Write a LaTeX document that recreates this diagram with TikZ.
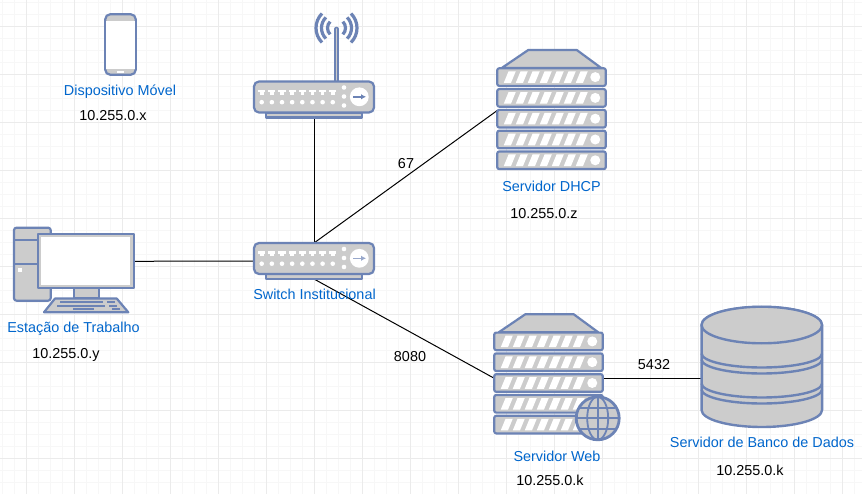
\documentclass[tikz,border=0pt]{standalone}
\usepackage{fontspec}
\setmainfont{Liberation Sans}
\usetikzlibrary{calc,arrows.meta}

\definecolor{iconblue}{HTML}{6C83B5}
\definecolor{icongray}{HTML}{CCCCCC}
\definecolor{nameblue}{HTML}{0066CC}

\tikzset{
  iconbox/.style={inner sep=0pt,outer sep=0pt},
  iconpart/.style={draw=iconblue,fill=icongray,line width=2.2pt,line join=round},
  iconwave/.style={draw=iconblue,line width=3.2pt},
  namelabel/.style={text=nameblue,font=\fontsize{14.4}{17}\selectfont,inner sep=0pt,text height=10.5pt,text depth=3pt},
  addrlabel/.style={text=black,font=\fontsize{14.4}{17}\selectfont,inner sep=0pt,text height=10.5pt,text depth=3pt},
  portlabel/.style={text=black,font=\fontsize{14.4}{17}\selectfont,inner sep=0pt,text height=10.5pt,text depth=3pt},
  link/.style={draw=black,line width=1pt},
}

%% switch body, also used for the router
\newcommand{\netdevice}[2]{
  \begin{scope}[shift={(#1.north west)}]
    \draw[iconpart] (12,31) rectangle (108,36);
    \draw[iconpart,rounded corners=5pt] (0,0) rectangle (120,31);
    \foreach \x in {0,...,7}
    {
      \fill[white] ({7.7+10.15*\x-3.6},8.3) rectangle ({7.7+10.15*\x+3.6},11);
      \fill[white] ({7.7+10.15*\x-1.8},11) rectangle ({7.7+10.15*\x+1.8},13.2);
      \fill[white] ({7.7+10.15*\x},20.7) circle (2.3);
    }
    \foreach \y in {6,15,24}
      \fill[white] (90,\y) circle (2.3);
    \fill[white] (105.3,15.3) circle (9.4);
    \draw[-{Latex[length=5pt,width=5.5pt]},draw=#2,fill=#2,line width=1.5pt] (99,15.3) -- (112,15.3);
  \end{scope}
}

%% five stacked units with a roof
\newcommand{\serverstack}[1]{
  \begin{scope}[shift={(#1.north west)}]
    \draw[iconpart] (4.5,18) -- (31,0) -- (79.5,0) -- (104,18) -- cycle;
    \foreach \u in {0,1,2,3,4}
    {
      \begin{scope}[yshift={-(18.3+20.8*\u)*1pt}]
        \draw[iconpart,rounded corners=2pt] (0,0) rectangle (108.5,17.6);
        \foreach \x in {0,...,6}
          \fill[white] ({6.5+12*\x},14.6) -- ({13.7+12*\x},14.6) -- ({18.5+12*\x},3) -- ({11.3+12*\x},3) -- cycle;
        \fill[white] (98,8.8) circle (5);
      \end{scope}
    }
  \end{scope}
}

\begin{document}
\begin{tikzpicture}[x=1pt,y=-1pt]
  \useasboundingbox (0,0) rectangle (862,494);
  \fill[white] (0,0) rectangle (862,494);

  %% Background grid
  \foreach \x in {2.5,14.5,...,860}
    \draw[draw=black!3,line width=1pt] (\x,0) -- (\x,494);
  \foreach \y in {2.5,14.5,...,494}
    \draw[draw=black!3,line width=1pt] (0,\y) -- (862,\y);
  \foreach \x in {26.5,74.5,...,860}
    \draw[draw=black!8,line width=1pt] (\x,0) -- (\x,494);
  \foreach \y in {26.5,74.5,...,494}
    \draw[draw=black!8,line width=1pt] (0,\y) -- (862,\y);

  %% Boxes the connectors attach to
  \node[iconbox,minimum width=30.5pt,minimum height=60.5pt] (phone) at (120.5,44.5) {};
  \node[iconbox,minimum width=120pt,minimum height=36pt] (router) at (314,99.5) {};
  \node[iconbox,minimum width=120pt,minimum height=36pt] (switch) at (314,261) {};
  \node[iconbox,minimum width=96pt,minimum height=54pt] (pc) at (86.3,261.3) {};
  \node[iconbox,minimum width=108.5pt,minimum height=121pt] (dhcp) at (551.5,110.5) {};
  \node[iconbox,minimum width=108.5pt,minimum height=128pt] (web) at (548.5,378.3) {};
  \node[iconbox,minimum width=120.5pt,minimum height=120pt] (db) at (761.8,367) {};

  %% Connectors
  \draw[link] (router.south) -- (switch.north);
  \draw[link] (switch.north) -- (dhcp.west);
  \draw[link] (switch.west) -- (pc.east);
  \draw[link] (switch.south) -- (web.west);
  \draw[link] (web.east) -- (web.east -| db.west);

  %% Phone
  \begin{scope}[shift={(phone.north west)}]
    \draw[iconpart,rounded corners=5pt] (0,0) rectangle (30.5,60.5);
    \fill[white] (1.1,6.5) rectangle (29.4,55);
    \fill[white] (11.5,56.8) rectangle (18.7,58.6);
  \end{scope}

  %% Router with antenna
  \draw[draw=iconblue,line width=4.6pt,line cap=round] (336.5,81) -- (336.5,29);
  \draw[draw=icongray,line width=1.2pt,line cap=round] (336.5,81) -- (336.5,29);
  \foreach \r in {9,15,20.5}
  {
    \draw[iconwave] (336.5,28) ++(-45:\r) arc (-45:45:\r);
    \draw[iconwave] (336.5,28) ++(135:\r) arc (135:225:\r);
  }
  \netdevice{router}{iconblue}
  \netdevice{switch}{iconblue!70}

  %% Workstation
  \draw[iconpart,rounded corners=2.5pt] (14,227.7) rectangle (50.7,300.7);
  \draw[draw=iconblue,line width=2.2pt] (14,240) -- (50.7,240);
  \draw[draw=iconblue,line width=2.2pt] (14,264) -- (50.7,264);
  \fill[white] (18.3,267.6) rectangle (22,271.6);
  \draw[iconpart] (74,288) rectangle (99,297.7);
  \draw[iconpart] (pc.south west) rectangle (pc.north east);
  \fill[white] (41.3,237) rectangle (130,285);
  \draw[iconpart] (44,312.3) -- (55,298.5) -- (116.7,298.5) -- (128.3,312.3) -- cycle;
  \fill[iconblue] (60,300.8) rectangle (103,302.8);
  \fill[iconblue] (106.7,300.8) rectangle (115,302.8);
  \fill[iconblue] (57,304.6) rectangle (105,306.6);
  \fill[iconblue] (109,304.6) rectangle (117,306.6);
  \fill[iconblue] (73,308.3) rectangle (94,310.3);
  \fill[iconblue] (112,308.3) rectangle (120,310.3);

  %% Servers
  \serverstack{dhcp}
  \serverstack{web}
  \draw[iconpart,line width=2.8pt] (597.7,418.3) circle (21.5);
  \begin{scope}[draw=iconblue,line width=1.8pt]
    \draw (597.7,396.8) -- (597.7,439.8);
    \draw (576.2,418.3) -- (619.2,418.3);
    \draw (597.7,418.3) ellipse (10.5 and 21.5);
    \draw (580,408) -- (615.4,408);
    \draw (580,428.6) -- (615.4,428.6);
  \end{scope}

  %% Database
  \begin{scope}[shift={(db.north west)}]
    \draw[iconpart,line width=2.4pt] (0,18) -- (0,103) arc (180:0:60.25 and 17) -- (120.5,18) arc (0:-180:60.25 and 18);
    \draw[iconpart,line width=2.4pt] (60.25,18) ellipse (60.25 and 18.3);
    \foreach \y in {46.5,52.5,76.5,82.5}
      \draw[draw=iconblue,line width=2.4pt] (0,\y) arc (180:0:60.25 and 14);
  \end{scope}

  %% Labels
  \node[namelabel] (phonename) at (120,91.5) {Dispositivo Móvel};
  \node[addrlabel] (phoneaddr) at (113,116.3) {10.255.0.x};
  \node[namelabel] (dhcpname) at (551.5,188.2) {Servidor DHCP};
  \node[addrlabel] (dhcpaddr) at (544,214.8) {10.255.0.z};
  \node[namelabel] (pcname) at (73.5,328.3) {Estação de Trabalho};
  \node[addrlabel] (pcaddr) at (66,354.8) {10.255.0.y};
  \node[namelabel] (switchname) at (314.5,295.5) {Switch Institucional};
  \node[namelabel] (webname) at (557,458) {Servidor Web};
  \node[addrlabel] (webaddr) at (550,481.5) {10.255.0.k};
  \node[namelabel] (dbname) at (762,443.5) {Servidor de Banco de Dados};
  \node[addrlabel] (dbaddr) at (750,471.5) {10.255.0.k};
  \node[portlabel] (dhcpport) at (406,165) {67};
  \node[portlabel] (webport) at (410,358) {8080};
  \node[portlabel] (dbport) at (654,366) {5432};
\end{tikzpicture}
\end{document}
